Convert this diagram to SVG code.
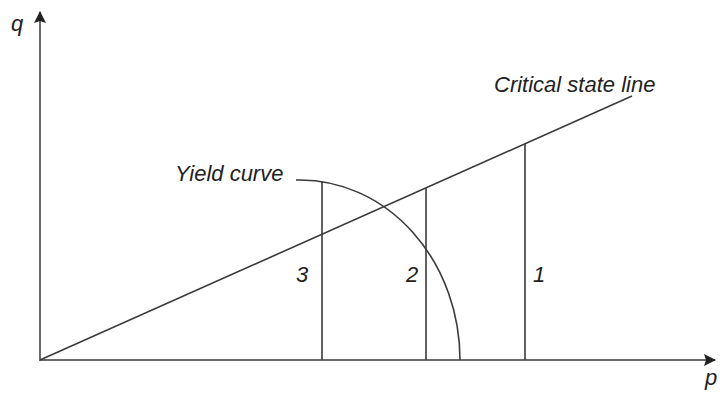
<svg xmlns="http://www.w3.org/2000/svg" width="722" height="394" viewBox="0 0 722 394">
<style>
.ax{stroke:#6a6a6a;stroke-width:2;fill:none}
.ln{stroke:#3a3a3a;stroke-width:1.6;fill:none}
.lbl{font-family:"Liberation Sans",Arial,sans-serif;font-style:italic;font-size:22px;fill:#222}
</style>
<defs>
<marker id="ah" viewBox="0 0 12 12" refX="11" refY="6" markerWidth="12" markerHeight="12" markerUnits="userSpaceOnUse" orient="auto">
<path d="M0,0 L12,6 L0,12 L2,6 Z" fill="#222"/>
</marker>
</defs>
<g id="connectors">
<line class="ax" x1="40" y1="361" x2="40" y2="12" marker-end="url(#ah)"/>
<line class="ax" x1="39" y1="360" x2="715" y2="360" marker-end="url(#ah)"/>
<line class="ln" x1="40" y1="360" x2="632" y2="96"/>
<line class="ln" x1="322" y1="181" x2="322" y2="360"/>
<line class="ln" x1="426" y1="188" x2="426" y2="360"/>
<line class="ln" x1="525" y1="144" x2="525" y2="360"/>
<path class="ln" d="M296,180 L300,180 A160,180 0 0 1 460,360"/>
</g>
<g id="labels">
<text class="lbl" x="11" y="31">q</text>
<text class="lbl" x="705" y="385">p</text>
<text class="lbl" x="494" y="92">Critical state line</text>
<text class="lbl" x="175" y="181">Yield curve</text>
<text class="lbl" x="296" y="282">3</text>
<text class="lbl" x="406" y="282">2</text>
<text class="lbl" x="533" y="282">1</text>
</g>
</svg>
